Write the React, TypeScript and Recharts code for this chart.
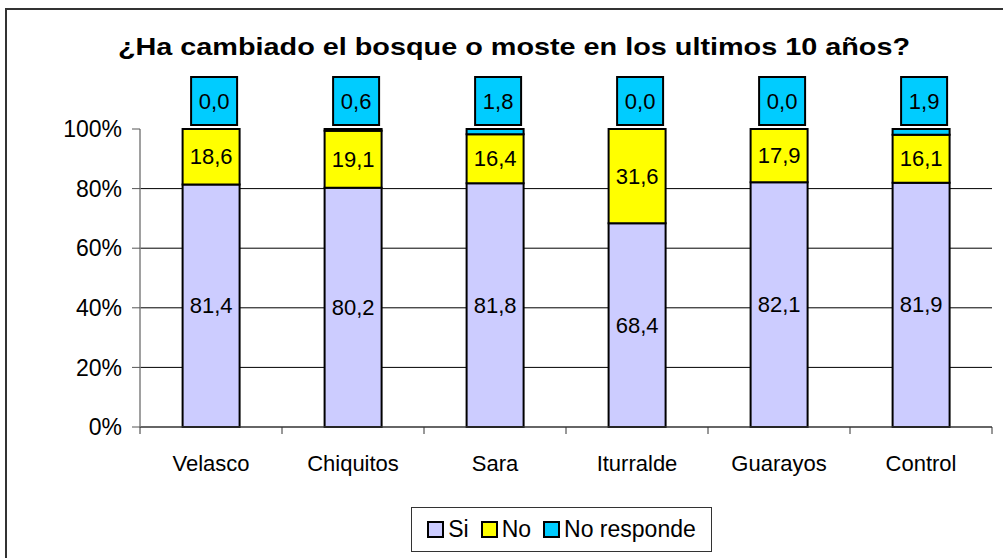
import { BarChart, Bar, XAxis, YAxis, CartesianGrid, LabelList } from 'recharts'

const regions = ['Velasco', 'Chiquitos', 'Sara', 'Iturralde', 'Guarayos', 'Control']
const si = [81.4, 80.2, 81.8, 68.4, 82.1, 81.9]
const no = [18.6, 19.1, 16.4, 31.6, 17.9, 16.1]
const noResponde = [0.0, 0.6, 1.8, 0.0, 0.0, 1.9]
const yTicks = [0, 0.2, 0.4, 0.6, 0.8, 1]

const series = [
  { key: 'si', name: 'Si', color: '#CCCCFF' },
  { key: 'no', name: 'No', color: '#FFFF00' },
  { key: 'nr', name: 'No responde', color: '#00CCFF' },
]

const data = regions.map((region, i) => ({
  region,
  si: si[i],
  no: no[i],
  nr: noResponde[i],
}))

const font = 'Arial, "Liberation Sans", sans-serif'
const fmt = (v: number) => v.toFixed(1).replace('.', ',')

// "No responde" values sit in a box above the bar; hung off the "No" segment
// so that the 0,0 ones (zero-height segments) still get drawn
function BoxLabel(props: any) {
  const { x, y, width, height, index } = props
  const nr = noResponde[index]
  const perUnit = height / no[index]
  const cx = x + width / 2 + 3
  const top = y - nr * perUnit - 52
  return (
    <g>
      <rect x={cx - 23} y={top} width={46} height={48} fill="#00CCFF" stroke="#000" strokeWidth={2} />
      <text x={cx} y={top + 24} textAnchor="middle" dominantBaseline="central" fontSize={22} fontFamily={font} fill="#000">
        {fmt(nr)}
      </text>
    </g>
  )
}

function CenterLabel(props: any) {
  const { x, y, width, height, value } = props
  return (
    <text x={x + width / 2} y={y + height / 2} textAnchor="middle" dominantBaseline="central" fontSize={22} fontFamily={font} fill="#000">
      {fmt(value)}
    </text>
  )
}

// category label plus the little separator ticks between categories
function CategoryTick(props: any) {
  const { x, y, payload, index, width, visibleTicksCount } = props
  const band = width / visibleTicksCount
  return (
    <g>
      <line x1={x - band / 2} x2={x - band / 2} y1={y} y2={y + 7} stroke="#333" />
      {index === visibleTicksCount - 1 && (
        <line x1={x + band / 2} x2={x + band / 2} y1={y} y2={y + 7} stroke="#333" />
      )}
      <text x={x} y={y + 36} textAnchor="middle" dominantBaseline="central" fontSize={22} fontFamily={font} fill="#000">
        {payload.value}
      </text>
    </g>
  )
}

export default function App() {
  return (
    <div style={{ position: 'absolute', left: 0, top: 0, width: 1003, height: 558, overflow: 'hidden', background: '#fff', fontFamily: font }}>
      <div style={{ position: 'absolute', left: 5, top: 8, width: 1040, height: 600, border: '2px solid #333' }} />
      <div
        style={{
          position: 'absolute',
          left: 0,
          width: 1028,
          top: 33,
          textAlign: 'center',
          fontSize: 24,
          fontWeight: 'bold',
          transform: 'scaleX(1.2)',
          transformOrigin: '514px 0',
        }}
      >
        ¿Ha cambiado el bosque o moste en los ultimos 10 años?
      </div>
      <div style={{ position: 'absolute', left: 0, top: 0 }}>
        <BarChart
          width={1003}
          height={558}
          data={data}
          stackOffset="expand"
          barCategoryGap="30%"
          margin={{ top: 129, right: 11, bottom: 91, left: 80 }}
        >
          <CartesianGrid vertical={false} stroke="#000" horizontalValues={[0.2, 0.4, 0.6, 0.8]} />
          <XAxis
            dataKey="region"
            height={40}
            axisLine={{ stroke: '#333', strokeWidth: 1.5 }}
            tickLine={false}
            tickSize={0}
            tickMargin={0}
            interval={0}
            tick={<CategoryTick />}
          />
          <YAxis
            width={60}
            domain={[0, 1]}
            ticks={yTicks}
            tickFormatter={(v: number) => `${Math.round(v * 100)}%`}
            axisLine={{ stroke: '#808080', strokeWidth: 1.5 }}
            tickLine={{ stroke: '#555' }}
            tickSize={8}
            tick={{ fontSize: 23, fill: '#000', fontFamily: font }}
            tickMargin={10}
          />
          {series.map((s) => (
            <Bar key={s.key} dataKey={s.key} name={s.name} stackId="a" fill={s.color} stroke="#000" strokeWidth={2} isAnimationActive={false}>
              {s.key !== 'nr' && <LabelList dataKey={s.key} content={CenterLabel} />}
              {s.key === 'no' && <LabelList dataKey="nr" content={BoxLabel} />}
            </Bar>
          ))}
        </BarChart>
      </div>
      <div
        style={{
          position: 'absolute',
          left: 411,
          top: 507,
          width: 299,
          height: 43,
          border: '1px solid #333',
          display: 'flex',
          alignItems: 'center',
          justifyContent: 'center',
          fontSize: 23,
        }}
      >
        {series.map((s) => (
          <span key={s.key} style={{ display: 'flex', alignItems: 'center', marginRight: s.key === 'nr' ? 0 : 12 }}>
            <span style={{ width: 13, height: 13, background: s.color, border: '2px solid #000', marginRight: 4 }} />
            {s.name}
          </span>
        ))}
      </div>
    </div>
  )
}
